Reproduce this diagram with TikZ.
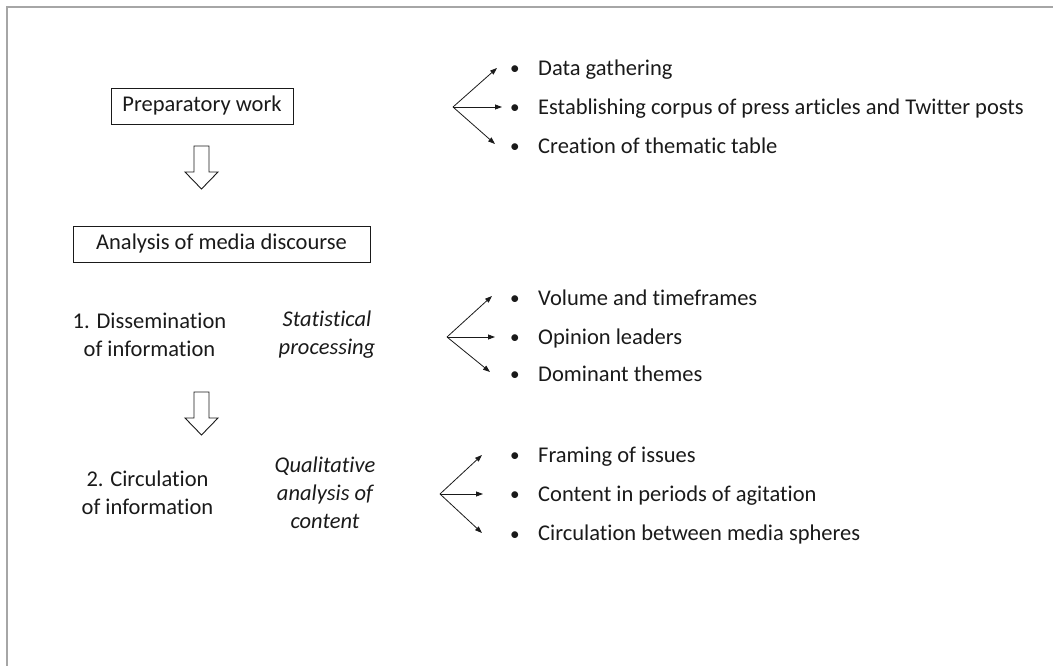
\documentclass[tikz,border=0pt]{standalone}
\usepackage{fontspec}
\setmainfont{Carlito}[Ligatures=NoCommon]
\usetikzlibrary{arrows.meta,calc}
\definecolor{ink}{HTML}{1A1A1A}
\definecolor{framegray}{HTML}{A6A6A6}

\begin{document}
\begin{tikzpicture}[x=1pt,y=-1pt,
   every node/.style={text=ink,font=\fontsize{22.5}{28}\selectfont,align=center},
   stagebox/.style={draw=ink,line width=0.8pt,minimum height=36pt,inner sep=0pt},
   item/.style={anchor=west,inner sep=0pt,execute at begin node={\makebox[28pt][l]{\raisebox{0.5pt}{\scalebox{0.85}{\textbullet}}}}},
   note/.style={font=\fontsize{22.5}{28}\selectfont\itshape},
   fan/.style={draw=ink,line width=0.8pt,-{Triangle[length=7pt,width=5pt]}},
   hollow/.style={draw=ink,line width=0.9pt,fill=white}]
   \useasboundingbox (0,0) rectangle (1053,666);
   \draw[framegray,line width=2pt] (1053,7) -- (7,7) -- (7,666);

   \node[stagebox,minimum width=182pt] (prep) at (202,106) {Preparatory work};
   \node[stagebox,minimum width=297pt] (media) at (221.5,244) {Analysis of media discourse};

   \coordinate (arrA) at (201.5,146);
   \coordinate (arrB) at (201.5,392);
   \draw[hollow] (arrA) ++(-7.5,0) -- ++(15,0) -- ++(0,26) -- ++(9,0) -- ++(-16.5,17) -- ++(-16.5,-17) -- ++(9,0) -- cycle;
   \draw[hollow] (arrB) ++(-7.5,0) -- ++(15,0) -- ++(0,26) -- ++(9,0) -- ++(-16.5,17) -- ++(-16.5,-17) -- ++(9,0) -- cycle;

   \node (dissem) at (149.5,335) {1. Dissemination\\of information};
   \node[note] (stat) at (327,335) {Statistical\\processing};
   \node (circ) at (147.5,493) {2. Circulation\\of information};
   \node[note] (qual) at (325,493) {Qualitative\\analysis of\\content};

   \node[item] (data) at (510,69.5) {Data gathering};
   \node[item] (corpus) at (510,108.5) {Establishing corpus of press articles and Twitter posts};
   \node[item] (table) at (510,145.5) {Creation of thematic table};

   \node[item] (volume) at (510,297.5) {Volume and timeframes};
   \node[item] (leaders) at (510,338.5) {Opinion leaders};
   \node[item] (themes) at (510,373.5) {Dominant themes};

   \node[item] (framing) at (510,456.5) {Framing of issues};
   \node[item] (agitation) at (510,495.5) {Content in periods of agitation};
   \node[item] (spheres) at (510,534.5) {Circulation between media spheres};

   \coordinate (forkA) at (453,107);
   \coordinate (forkB) at (447,337);
   \coordinate (forkC) at (440,494);

   \draw[fan] (forkA) -- ([xshift=-13pt,yshift=1.5pt]data.west);
   \draw[fan] (forkA) -- ([xshift=-8pt,yshift=1.5pt]corpus.west);
   \draw[fan] (forkA) -- ([xshift=-15pt,yshift=1.5pt]table.west);
   \draw[fan] (forkB) -- ([xshift=-18pt,yshift=1.5pt]volume.west);
   \draw[fan] (forkB) -- ([xshift=-15pt,yshift=1.5pt]leaders.west);
   \draw[fan] (forkB) -- ([xshift=-20pt,yshift=1.5pt]themes.west);
   \draw[fan] (forkC) -- ([xshift=-28pt,yshift=1.5pt]framing.west);
   \draw[fan] (forkC) -- ([xshift=-27pt,yshift=1.5pt]agitation.west);
   \draw[fan] (forkC) -- ([xshift=-28pt,yshift=1.5pt]spheres.west);
\end{tikzpicture}
\end{document}
